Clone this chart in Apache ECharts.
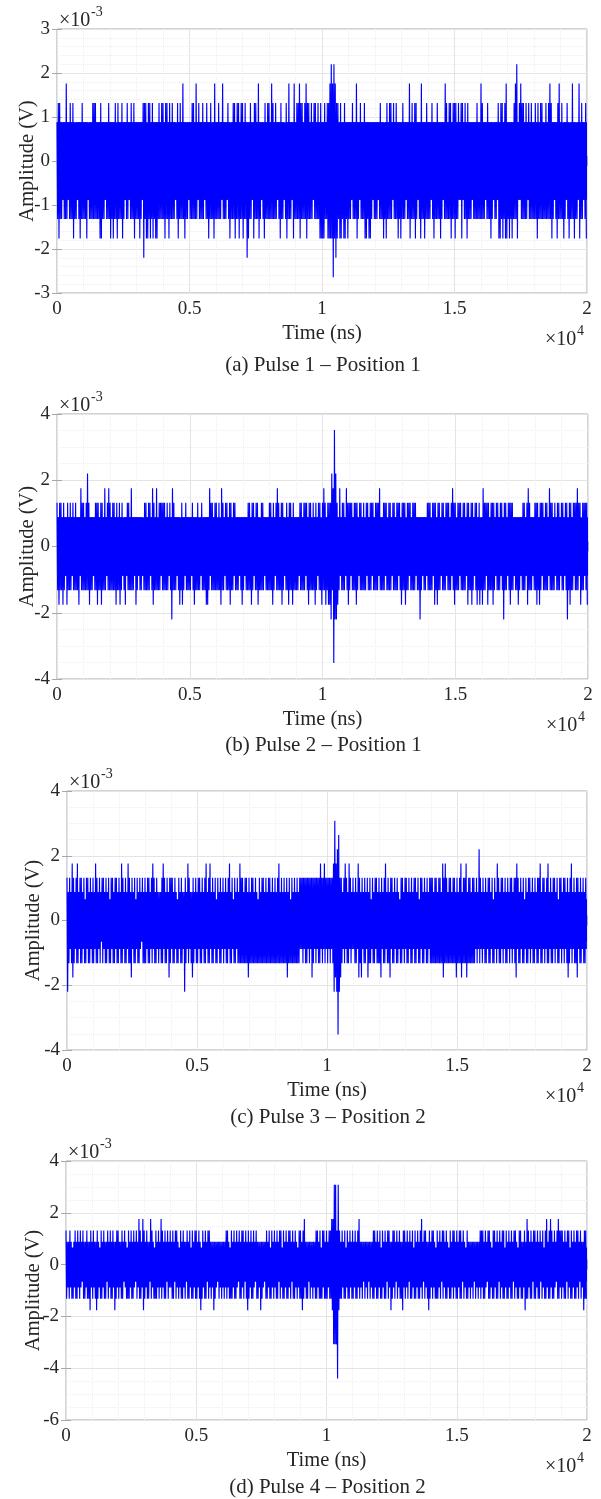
<!DOCTYPE html>
<html><head><meta charset="utf-8">
<script src="https://cdn.jsdelivr.net/npm/echarts@6/dist/echarts.min.js"></script>
<style>html,body{margin:0;padding:0;background:#fff}#c{width:601px;height:1499px}</style>
</head><body><div id="c"></div>
<script>
// Quantised amplitude levels (x10^-3 V) keyed by the characters used in the sample strings
const LEVELS = {'0':0,'1':0.44,'2':0.88,'3':1.32,'4':1.76,'5':2.2,'6':2.64,'7':3.08,'8':3.52,
  'a':-0.44,'b':-0.88,'c':-1.32,'d':-1.76,'e':-2.2,'f':-2.64,'g':-3.08,'h':-3.52,'i':-3.96,'j':-4.4};
// each string = 1000 ns of samples (25 ns apart)
const pulse1 = [
"2c3d3c2c2b2c2c4c2b2c3c2c3d2c1c2b2c2d2c3c","2c2c2d2b1c2c2c3c3c3c2c2c2d3d2c2c2b2c2c3c",
"2d2c2d2c3c1d3c2c2c3d2c2b2c3c2b2c3c2c3d2c","2c2c2d2c2b3e3c3d1d3c3d2c3d2c2d2d2c3c2c3c",
"3c2d3c3c2d3c2c3c2c2b1c3d2c3c2c4c2d2c2c2b","2c2c3c3c2c4c2b3c2c2c3c2b2c3c2d2c3c1c2d4c",
"2c2c3c2c2b4c2c2c2b3c2d1c2c3c3d2c3c3d2c3c","3d2c3c2e2d2c3c2b2d3c3c2c4d2c2b2c2d3c2c3c",
"3c2c4c3c2c3c2b2c2d3c2c2b1c3d2c4c2c2b2d4c","2c3c3c4d3c3c2c3c4d3c3c2c3c2b3c3c2c3c2d3d",
"2d2d3c2c3d3d4d5d4f5d4e3d3c2d3d2c2d3d2c2d","2c2c2b3c2c2c4d2c2b3c2c2c3d2d2c2d2d2c2b2c",
"2c2c2b2c3c2c2d1c2d3c2c3c3c2b3c2c3c2d2c2d","2c3c2c2b2c2c4d2c3c2c3d3c2b2c2d4c2c2d2c3c",
"2c2c2b3c2d2c2c3c2c2d2c2b2c4c3c2c3c3d2c3c","3d3c2c3b2b3d3b2c3c2d3c2c2c2b2c2c2c3c2c2c",
"4c3c2c2b2c3c2c2d2c2b2c2c2b3d2d3c3d2c3d4d","2c2d2c2d2c3c4c5d2b3b4c3c3c2c3c2b3c2c3c2c",
"2c3c2d3c2c3c3c2c1c3c2c3c4c3d2c2b2c2d3c4c","2c3c1d2c2b3c2d1c2c4c2d2c1c2b4d2c3c2b2c3d"];
const pulse2 = [
"3c2d3c3c2d3c2b2d3c2c3c2b3c2c3c2c2d2b4c3c","3c2c3c5c3d2c2c2b2c3c3d3c2c3d3c2c4c2b3c4c",
"3c2c3c3c2d3c2c3d2c3b1c2d2b3c3c2c4c2c2b2d","2c2b2c2c2b1c3c3c2c3c3b2c4d3c2c4c1c3c3b3c",
"3c3c2c3c2b3c2e4c3c2c2b2c2d1c3d2c2b3c2c2c","2c2b3c2d2c2c3c1c2b3c2c2c2d2d2c4b3c3c2c3c",
"3c1c3c1d4c3c2b3c3c2c3d3c1c3b3c2c2c2b2c2d","2c2b2c2c3c3c2d3c3b2c3c3d2c1c3c3c2b2c2c2c",
"3c3c2d3c2b3c4c3c2c3d3c2b1c3c2d3c3c2d3c2c","2c2c2b3c3c2c3c3b3c2d3c3c1c3c2d3c2b3c3c1d",
"3c4c3d2c3d3d3e5c4h8e5e3d2c4b2c3c3c2b4c3d","3c3b3c2c3c3d3c2b3c3c2c3c1c3b3c2c3c3b3c2c",
"3c3c3b4c2c2c3c3b3c1c3c3c2b3c3c2c3c3b3c2d","3c3c3d1c3c3b3c2c3c3c3b2c2c2e2c2b2c2c2b3c",
"3c3c1c3b3d3c2d3c3c2b3c3c2c3b3c3c2c3b4c3d","3c1c3c3b3c2c3c3c2b3d3c2c3d3c2b3c3d2c3d1c",
"2d4c3c3b3d3c2c3c3d3c2b3c3c2c3b3c2e3c3c2b","3c3d3c3c2b2c2c2d2c2b2c3c3c2b3d4c3c2c2b2c",
"3c3d3c2d3c3b3c2c3c3c2b4c3c3c2c3b2c3c3c2b","3c3c2b3c3e1c3d3c2c3b3c3c4c3b3d1c3c3b3c3d"];
const pulse3 = [
"3e2c3b2c4d3c2b3c4c2b3c3c2b3c1c3b3c2c3b2c","3c2b4c3c2b3c2a3c3b2c3c2b3c1c3b3c2c3b3c2c",
"3b2c4c3b2c3c2b4c3c2d3b2c3c1b3c2c3b2a3c2c","3c2b3c3c2b3c4b3c2c3b2c2b2c3c4b3c2c3b2d3c",
"3b3c2c3b2c1c3b2c3c2b2e3c2b4c3b2c2d3c2b3c","2c3b3c2c3b2c3c4b2c3c4b2c3c2b3c1c3b2c3c2b",
"3c2b3c2c3b4c2c3b1c3c2b3c2c4c3c3c2c3c3c2d","3c2c3c3c2c3c2c1c3c2c3c3c2c3c2c3c3c2c3c2c",
"3c2c3c4c2c3c2c3c2c3d2c3c1c3c2c3c2c3c2c3b","3b3c3b3c3c3b3c3b3d3c3b3c3b3c3c4b3c3b4c3b",
"3c3b3c3b3c4e7d4e5h6e3d3c2b3c4b3c2c4b3c2b","3b2c3c2b4d3c2d3b2c3c2b3d2c3c1b3c2c3b3c2c",
"3c2d3b2c3c4b2c3c2d3b3c2c3b2c3c2b1c3c3b2c","3b3c2c3b2c3c2b3c3c2b3c1c3b3c2c3b2c3c2b3c",
"3c3c2c3c3c2c3c3c2c4d3c4c3c2c3c3c2c3c3c2d","3c2c3c4d2c3c3c4d2c3c3c2c3c3c2b3c2b5c3b2c",
"3b2c3c2b3c3c2b3c1c3b2c4b3c2c3b3c2b3c2c3b","2c3b3c2b3c3d4b3c2c3b2c3c1b3c2c3b3c2b3c2c",
"3b2c3c3b4c2c3b3c2b3c4c2b3c2c3b3c2b3c1c3b","3c2b3c3b2c3d2c3b4c2b3c2c3d3b2c3c2b3c2c3b"];
const pulse4 = [
"3c2b2c3b2c1c2b3c2c3b2c3b2a3c2c2b3c2c2d3b","2c3b2c2d3c2b1c3c2b3c2c2a3c2b3c2c3b2d2c3b",
"3c2b2c3c2a3b2c1c3c2b3c2c3b2a3c2b4c3c2b4d","3c2b3c2c2a4c3b2c1c3c2b3c2b4c3b2c3c2a3c2b",
"3b2c3c2a3c3b2c1b3c2c3b2c2a3c2c3b1c3c2b3c","3c2b3c2d1c3b2c3c2a3c3b2c2b2d2c2b2a2c2b2c",
"2b2c2b3c3b2c1c3c2b3c2c3b2a3c2c3b3c2a3c2d","3c2b3c2c3b2a3c2c2b2d2c2b2a2c3c2b3c1c3b2c",
"3b2c3c2a3c3b1c3c2b3c2c3b3c2a3c2c3b2c1b3c","3c2d3c4b2c2c2a2c2b2c2b2c3c3b2c3c1c3b3c2c",
"3c2b3c3c4d4g7g7g3j7d3c2c3b2c3c1b3c2c3b2c","3c2b3c2c3b4c2b2c2a2c2b2c2a2c2b2c3c3b2c3c",
"2b3c1c3b2c3c2a3c3b2d2c3b3c2a3c2b3c2c2d3b","3c2b3c2a3c2c3b1c3c2b3c2c3b4c2a3c3b2c2d3c",
"2b3c3b2c1c3c2b3c2a3c3b2c3c2b1c3c2b3c3b2c","3c2b3c3c2a3c2b1c3c2b2c2b2c2a2c2b2c2b3c3b",
"3c2c3b2a3c3c2b1c3c3b2c3c2a3c2b3c3c1b3c2c","3b2c3c2a3c3b2c1c3b3c2c2b3d2c4c3b2c3c2a3c",
"3c2b3c2c3a2c3b1c3c4b2c3c4b3c2c3b2a3c4c3b","3c3b2c3c2a3c3b1c3c2b3c2c3b3c2a3c2b2d3c3c"];
// amplitude range that the dense noise covers continuously (never white) in each panel
const coreLo = [-0.88,-0.88,-0.66,-0.66];
const coreHi = [0.88,0.88,0.66,0.66];

const captions = ['(a) Pulse 1 \u2013 Position 1','(b) Pulse 2 \u2013 Position 1','(c) Pulse 3 \u2013 Position 2','(d) Pulse 4 \u2013 Position 2'];
const xTickValues = [0,5000,10000,15000,20000];
const xTickLabels = ['0','0.5','1','1.5','2'];
const yRanges = [[-3,3,1,5],[-4,4,2,4],[-4,4,2,4],[-6,4,2,4]];
const SEG_NS = 1000, T_END = 20000;

// layout (pixels)
const boxes = [
  {L:57,T:29,R:587,B:293,cap:365,ycx:28},
  {L:57,T:414,R:588,B:679,cap:745,ycx:28},
  {L:67,T:791,R:587,B:1050,cap:1117,ycx:34},
  {L:66,T:1161,R:587,B:1420,cap:1487,ycx:34}
];

function build(segs){
  const out=[];
  segs.forEach((s,k)=>{
    const step = SEG_NS/s.length;
    for(let j=0;j<s.length;j++) out.push([k*SEG_NS + j*step, LEVELS[s[j]]]);
  });
  return out;
}
const allData = [pulse1,pulse2,pulse3,pulse4].map(build);

const FONT = '"Liberation Serif", "Times New Roman", serif';
const FRAME = '#a8a8a8';
const TXT = '#262626';
const BLUE = '#0000ff';
const grid=[], xAxis=[], yAxis=[], series=[], graphic=[];

function T(x,y,text,size,align,vAlign,rot){
  const g={type:'text',x:x,y:y,silent:true,style:{text:text,font:size+'px '+FONT,fill:TXT,
    textAlign:align,align:align,textVerticalAlign:vAlign,verticalAlign:vAlign}};
  if(rot) g.rotation=rot;
  return g;
}

boxes.forEach((b,i)=>{
  const [ymin,ymax,yint,ysplit]=yRanges[i];
  grid.push({left:b.L,top:b.T,width:b.R-b.L,height:b.B-b.T,show:true,borderColor:FRAME,borderWidth:1,backgroundColor:'transparent'});
  const tick={show:true,inside:true,length:5,lineStyle:{color:FRAME,width:1}};
  xAxis.push({type:'value',gridIndex:i,min:0,max:T_END,interval:5000,
    axisLine:{show:false},axisTick:tick,
    axisLabel:{margin:7,fontFamily:FONT,fontSize:19,color:TXT,
      formatter:v=>{const k=xTickValues.indexOf(v);return k>=0?xTickLabels[k]:'';}},
    splitLine:{show:true,lineStyle:{color:'#e4e4e4',width:1}},
    minorTick:{show:true,splitNumber:5,length:0,lineStyle:{opacity:0}},
    minorSplitLine:{show:true,lineStyle:{color:'#efefef',width:1,type:'dotted'}}});
  xAxis.push({type:'value',gridIndex:i,position:'top',min:0,max:T_END,interval:5000,
    axisLine:{show:false},axisTick:tick,axisLabel:{show:false},splitLine:{show:false}});
  yAxis.push({type:'value',gridIndex:i,min:ymin,max:ymax,interval:yint,
    axisLine:{show:false},axisTick:tick,
    axisLabel:{margin:7,fontFamily:FONT,fontSize:19,color:TXT},
    splitLine:{show:true,lineStyle:{color:'#e4e4e4',width:1}},
    minorTick:{show:true,splitNumber:ysplit,length:0,lineStyle:{opacity:0}},
    minorSplitLine:{show:true,lineStyle:{color:'#efefef',width:1,type:'dotted'}}});
  yAxis.push({type:'value',gridIndex:i,position:'right',min:ymin,max:ymax,interval:yint,
    axisLine:{show:false},axisTick:tick,axisLabel:{show:false},splitLine:{show:false}});
  // dense-noise core drawn as a filled band through the axes
  series.push({type:'custom',xAxisIndex:2*i,yAxisIndex:2*i,silent:true,animation:false,z:2,
    data:[[0,T_END,coreLo[i],coreHi[i]]],encode:{x:[0,1],y:[2,3]},
    renderItem:(params,api)=>{
      const p1=api.coord([api.value(0),api.value(3)]);
      const p2=api.coord([api.value(1),api.value(2)]);
      return {type:'rect',shape:{x:p1[0],y:p1[1],width:p2[0]-p1[0],height:p2[1]-p1[1]},style:{fill:BLUE}};
    }});
  series.push({type:'line',xAxisIndex:2*i,yAxisIndex:2*i,data:allData[i],z:3,
    showSymbol:false,symbol:'none',silent:true,animation:false,
    sampling:false,progressive:0,
    lineStyle:{color:BLUE,width:1.15,join:'bevel'}});

  const cx=(b.L+b.R)/2;
  graphic.push(T(b.ycx,(b.T+b.B)/2,'Amplitude (V)',20.5,'center','middle',Math.PI/2));
  graphic.push(T(cx,b.B+41,'Time (ns)',20.5,'center','middle'));
  graphic.push(T(b.R-42,b.B+47,'\u00d710',20,'left','middle'));
  graphic.push(T(b.R-10,b.B+38,'4',14,'left','middle'));
  graphic.push(T(b.L+2,b.T-8,'\u00d710',20,'left','middle'));
  graphic.push(T(b.L+34,b.T-17,'-3',14,'left','middle'));
  graphic.push(T(cx+1,b.cap,captions[i],21,'center','middle'));
});

const chart = echarts.init(document.getElementById('c'),null,{renderer:'canvas'});
chart.setOption({animation:false,backgroundColor:'#fff',grid,xAxis,yAxis,series,graphic});
</script></body></html>
